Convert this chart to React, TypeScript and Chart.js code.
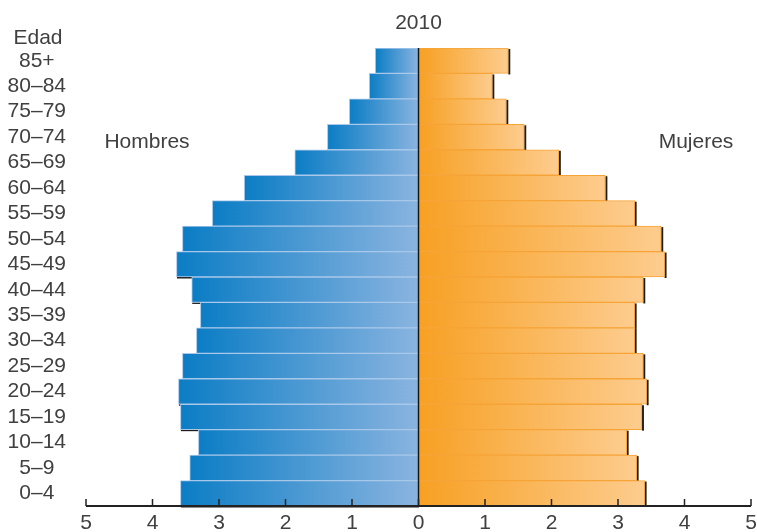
import React, { useEffect, useRef } from 'react';
import { Chart, registerables } from 'chart.js';
Chart.register(...registerables);

const ageGroups = ['85+', '80–84', '75–79', '70–74', '65–69', '60–64', '55–59', '50–54', '45–49', '40–44', '35–39', '30–34', '25–29', '20–24', '15–19', '10–14', '5–9', '0–4'];
const hombres = [0.65, 0.74, 1.04, 1.37, 1.86, 2.62, 3.10, 3.55, 3.64, 3.41, 3.28, 3.34, 3.55, 3.61, 3.58, 3.31, 3.44, 3.58];
const mujeres = [1.35, 1.11, 1.32, 1.59, 2.11, 2.81, 3.25, 3.65, 3.70, 3.38, 3.25, 3.25, 3.38, 3.43, 3.36, 3.13, 3.28, 3.40];
const xTicks = [-5, -4, -3, -2, -1, 0, 1, 2, 3, 4, 5];
const title = '2010';
const axisTitle = 'Edad';
const leftLabel = 'Hombres';
const rightLabel = 'Mujeres';

const FONT = "'Liberation Sans', Arial, sans-serif";
const TEXT = '#404040';

function barGradient(ctx: any, dark: string, light: string) {
  const chart = ctx.chart;
  const xs = chart.scales && chart.scales.x;
  if (!xs || !chart.chartArea || ctx.raw === undefined) return dark;
  const x0 = xs.getPixelForValue(0);
  const x1 = xs.getPixelForValue(ctx.raw);
  if (!isFinite(x0) || !isFinite(x1) || x0 === x1) return dark;
  const g = chart.ctx.createLinearGradient(x1, 0, x0, 0);
  g.addColorStop(0, dark);
  g.addColorStop(1, light);
  return g;
}

const decor = {
  id: 'decor',
  beforeDatasetsDraw(chart: any) {
    const ctx = chart.ctx;
    ctx.save();
    ctx.fillStyle = '#1c1c1c';
    chart.data.datasets.forEach((_ds: any, i: number) => {
      const meta = chart.getDatasetMeta(i);
      meta.data.forEach((el: any) => {
        const { x, y, base, height } = el.getProps(['x', 'y', 'base', 'height'], true);
        const l = Math.min(x, base);
        const r = Math.max(x, base);
        const top = y - height / 2;
        if (i === 0) {
          ctx.fillRect(l + 0.5, top + height, r - l, 1.5);
        } else {
          ctx.fillRect(r, top + 1, 2, height);
        }
      });
    });
    ctx.restore();
  },
  afterDatasetsDraw(chart: any) {
    const { ctx, chartArea } = chart;
    const xs = chart.scales.x;
    ctx.save();
    const x0 = xs.getPixelForValue(0);
    ctx.strokeStyle = '#151515';
    ctx.lineWidth = 1.5;
    ctx.beginPath();
    ctx.moveTo(x0, chartArea.top);
    ctx.lineTo(x0, chartArea.bottom);
    ctx.stroke();
    ctx.strokeStyle = '#222';
    ctx.lineWidth = 2;
    ctx.beginPath();
    ctx.moveTo(xs.getPixelForValue(xTicks[0]), chartArea.bottom);
    ctx.lineTo(xs.getPixelForValue(xTicks[xTicks.length - 1]), chartArea.bottom);
    ctx.stroke();
    ctx.lineWidth = 1.5;
    xTicks.forEach((v) => {
      const px = xs.getPixelForValue(v);
      ctx.beginPath();
      ctx.moveTo(px, chartArea.bottom);
      ctx.lineTo(px, chartArea.bottom - 7);
      ctx.stroke();
    });
    ctx.restore();
  },
  afterDraw(chart: any) {
    const { ctx } = chart;
    const xs = chart.scales.x;
    ctx.save();
    ctx.fillStyle = TEXT;
    ctx.font = `21px ${FONT}`;
    ctx.textAlign = 'center';
    ctx.textBaseline = 'middle';
    ctx.fillText(title, xs.getPixelForValue(0), 23);
    ctx.fillText(axisTitle, 38, 38);
    ctx.fillText(leftLabel, 147, 142);
    ctx.fillText(rightLabel, 696, 142);
    ctx.restore();
  },
};

export default function App() {
  const ref = useRef<HTMLCanvasElement>(null);
  useEffect(() => {
    document.body.style.margin = '0';
    const canvas = ref.current;
    if (!canvas) return;
    const chart = new Chart(canvas, {
      type: 'bar',
      data: {
        labels: ageGroups,
        datasets: [
          {
            label: leftLabel,
            data: hombres.map((v) => -v),
            backgroundColor: (c: any) => barGradient(c, '#0b7dc5', '#8ab4e0'),
            borderColor: '#a9c8ea',
            borderWidth: 1,
            borderSkipped: false,
            barPercentage: 1,
            categoryPercentage: 1,
          },
          {
            label: rightLabel,
            data: mujeres,
            backgroundColor: (c: any) => barGradient(c, '#fdcc8e', '#f7a023'),
            borderColor: '#f6a437',
            borderWidth: 1,
            borderSkipped: false,
            barPercentage: 1,
            categoryPercentage: 1,
          },
        ],
      },
      options: {
        indexAxis: 'y',
        animation: false,
        responsive: false,
        devicePixelRatio: 1,
        layout: { padding: { top: 48, right: 0, left: 0, bottom: 0 } },
        plugins: {
          legend: { display: false },
          tooltip: { enabled: false },
          title: { display: false },
        },
        scales: {
          x: {
            type: 'linear',
            stacked: true,
            min: -5,
            max: 5,
            afterBuildTicks: (s: any) => {
              s.ticks = xTicks.map((v) => ({ value: v }));
            },
            afterFit: (s: any) => {
              s.height = 26;
              s.paddingRight = 6;
              s.paddingLeft = 0;
            },
            grid: { display: false, drawTicks: false },
            border: { display: false },
            ticks: {
              color: TEXT,
              font: { family: FONT, size: 21 },
              padding: 5,
              maxRotation: 0,
              callback: (v: any) => String(Math.abs(Number(v))),
            },
          },
          y: {
            type: 'category',
            stacked: true,
            afterFit: (s: any) => {
              s.width = 86;
            },
            grid: { display: false, drawTicks: true, tickLength: 20 },
            border: { display: false },
            ticks: {
              color: TEXT,
              font: { family: FONT, size: 21 },
              crossAlign: 'center',
              padding: 0,
              autoSkip: false,
            },
          },
        },
      },
      plugins: [decor],
    } as any);
    return () => chart.destroy();
  }, []);
  return (
    <div style={{ width: 757, height: 532 }}>
      <canvas ref={ref} width={757} height={532} style={{ display: 'block' }} />
    </div>
  );
}
